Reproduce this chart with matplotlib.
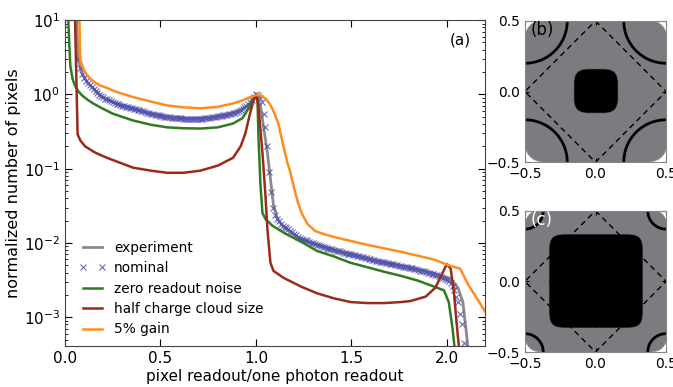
import numpy as np
import matplotlib
matplotlib.use('Agg')
import matplotlib.pyplot as plt
from matplotlib.patches import Arc

plt.rcParams['font.family'] = 'DejaVu Sans'
plt.rcParams['mathtext.fontset'] = 'dejavusans'
plt.rcParams['font.size'] = 10.5
plt.rcParams['xtick.direction'] = 'in'
plt.rcParams['ytick.direction'] = 'in'
plt.rcParams['xtick.top'] = True
plt.rcParams['ytick.right'] = True

# --- spectra (x: readout / one photon readout) ---
exp_x = [0.060, 0.068, 0.09, 0.12, 0.16, 0.20, 0.26, 0.35, 0.45, 0.55, 0.65, 0.75, 0.85, 0.92,
         0.96, 0.985, 1.0, 1.024, 1.039, 1.06, 1.076, 1.092, 1.113, 1.139, 1.18, 1.234, 1.32,
         1.407, 1.5, 1.585, 1.68, 1.76, 1.85, 1.93, 2.02, 2.058, 2.084, 2.10, 2.11]
exp_y = [12, 3.0, 1.9, 1.42, 1.12, 0.9, 0.77, 0.65, 0.55, 0.49, 0.47, 0.48, 0.535, 0.62,
         0.72, 0.88, 1.0, 0.71, 0.38, 0.165, 0.073, 0.032, 0.021, 0.017, 0.014, 0.0113, 0.0095,
         0.0081, 0.007, 0.0061, 0.0054, 0.0049, 0.0044, 0.0039, 0.0033, 0.0025, 0.0016, 0.0007, 0.0004]

# nominal model, one value every 0.01 starting at 0.07
nom_start, nom_step = 0.07, 0.01
nom_y = [3.0, 2.3, 1.9, 1.68, 1.52, 1.41, 1.32, 1.24, 1.17, 1.10,
         1.04, 0.99, 0.95, 0.91, 0.88, 0.855, 0.83, 0.81, 0.79, 0.77,
         0.75, 0.735, 0.72, 0.705, 0.69, 0.68, 0.67, 0.66, 0.65, 0.64,
         0.63, 0.62, 0.61, 0.60, 0.59, 0.58, 0.57, 0.56, 0.55, 0.543,
         0.535, 0.527, 0.52, 0.512, 0.505, 0.50, 0.495, 0.492, 0.49, 0.487,
         0.485, 0.482, 0.48, 0.477, 0.475, 0.472, 0.47, 0.47, 0.47, 0.47,
         0.47, 0.47, 0.47, 0.47, 0.47, 0.47, 0.475, 0.477, 0.48, 0.485,
         0.49, 0.495, 0.50, 0.505, 0.51, 0.515, 0.52, 0.527, 0.535, 0.542,
         0.55, 0.56, 0.57, 0.585, 0.60, 0.62, 0.64, 0.67, 0.70, 0.74,
         0.78, 0.84, 0.92, 1.0, 0.97, 0.90, 0.78, 0.55, 0.36, 0.20,
         0.09, 0.048, 0.03, 0.024, 0.021, 0.0195, 0.018, 0.017, 0.0163, 0.0157,
         0.0152, 0.0147, 0.0142, 0.0134, 0.0127, 0.0121, 0.0115, 0.0112, 0.0110, 0.0108,
         0.0106, 0.0103, 0.0101, 0.0099, 0.0097, 0.0095, 0.0093, 0.0091, 0.0089, 0.0087,
         0.0086, 0.0084, 0.0083, 0.0082, 0.0081, 0.0079, 0.0078, 0.0077, 0.0076, 0.0074,
         0.0073, 0.0072, 0.0071, 0.0070, 0.0069, 0.0068, 0.0067, 0.0066, 0.0065, 0.0064,
         0.0063, 0.0062, 0.0061, 0.0060, 0.0059, 0.00585, 0.0058, 0.0057, 0.0056, 0.00555,
         0.0055, 0.0054, 0.0053, 0.00525, 0.0052, 0.00515, 0.0051, 0.0050, 0.0049, 0.00485,
         0.0048, 0.00475, 0.0047, 0.00465, 0.0046, 0.00455, 0.0045, 0.0044, 0.0043, 0.00425,
         0.0042, 0.00415, 0.0041, 0.0040, 0.0039, 0.00385, 0.0038, 0.00375, 0.0037, 0.0036,
         0.0035, 0.0034, 0.0033, 0.0032, 0.0031, 0.0029, 0.0026, 0.0023, 0.0019, 0.0016,
         0.0011, 0.0008, 0.00045]
nom_x = np.round(nom_start + nom_step * np.arange(len(nom_y)), 2)

zero_x = [0.016, 0.022, 0.028, 0.04, 0.052, 0.07, 0.089, 0.12, 0.15, 0.184, 0.25, 0.357, 0.45,
          0.535, 0.62, 0.709, 0.8, 0.88, 0.93, 0.955, 0.98, 1.0, 1.008, 1.013, 1.024, 1.034,
          1.05, 1.087, 1.155, 1.234, 1.32, 1.407, 1.496, 1.585, 1.67, 1.76, 1.85, 1.93, 1.985,
          2.01, 2.03, 2.04]
zero_y = [12, 5.0, 2.4, 1.6, 1.32, 1.1, 0.97, 0.84, 0.75, 0.67, 0.55, 0.445, 0.39,
          0.36, 0.35, 0.347, 0.36, 0.405, 0.48, 0.61, 0.78, 0.97, 0.88, 0.28, 0.059, 0.0254,
          0.021, 0.017, 0.0133, 0.0105, 0.0078, 0.0066, 0.0054, 0.0047, 0.0041, 0.0036, 0.0031,
          0.0026, 0.0023, 0.0016, 0.0007, 0.0004]

half_x = [0.052, 0.066, 0.08, 0.105, 0.157, 0.22, 0.357, 0.45, 0.535, 0.62, 0.709, 0.8, 0.88,
          0.92, 0.945, 0.965, 0.985, 1.0, 1.013, 1.034, 1.05, 1.06, 1.076, 1.092, 1.144, 1.234,
          1.32, 1.407, 1.496, 1.585, 1.67, 1.76, 1.81, 1.89, 1.94, 1.97, 2.0, 2.02, 2.037,
          2.05, 2.063]
half_y = [12, 0.29, 0.24, 0.2, 0.165, 0.14, 0.103, 0.094, 0.088, 0.088, 0.094, 0.11, 0.14,
          0.2, 0.3, 0.5, 0.8, 1.0, 0.71, 0.165, 0.043, 0.0154, 0.0054, 0.0042, 0.0034, 0.0026,
          0.0021, 0.0018, 0.0016, 0.00155, 0.00155, 0.0016, 0.00165, 0.0019, 0.0025, 0.0036,
          0.0052, 0.0045, 0.0022, 0.0009, 0.0004]

gain_x = [0.075, 0.079, 0.09, 0.105, 0.13, 0.157, 0.184, 0.22, 0.27, 0.357, 0.45, 0.535, 0.62,
          0.709, 0.8, 0.88, 0.93, 0.97, 1.0, 1.024, 1.05, 1.07, 1.085, 1.10, 1.118, 1.144, 1.165,
          1.18, 1.20, 1.22, 1.24, 1.27, 1.31, 1.35, 1.41, 1.585, 1.76, 1.93, 2.02, 2.07, 2.11, 2.2]
gain_y = [12, 3.07, 2.4, 1.98, 1.65, 1.45, 1.32, 1.22, 1.08, 0.92, 0.8, 0.71, 0.67,
          0.65, 0.68, 0.755, 0.83, 0.92, 0.98, 0.97, 0.88, 0.76, 0.65, 0.53, 0.4, 0.2, 0.12,
          0.09, 0.055, 0.035, 0.025, 0.018, 0.0145, 0.0133, 0.012, 0.0094, 0.0076, 0.006,
          0.0049, 0.0045, 0.0028, 0.0012]

# --- pixel maps: (core half width, core exponent, corner arc radius, edge rounding, label colour)
maps = {'(b)': (0.155, 4.0, 0.30, 0.12, 'black'),
        '(c)': (0.33, 9.0, 0.13, 0.10, 'white')}
diamond_x = [0.0, 0.5, 0.0, -0.5, 0.0]
diamond_y = [0.5, 0.0, -0.5, 0.0, 0.5]

fig = plt.figure(figsize=(6.73, 3.87), dpi=100)
ax = fig.add_axes([0.0966, 0.106, 0.6241, 0.842])

ax.plot(exp_x, exp_y, color='#8a8a8a', lw=2, label='experiment')
ax.plot(nom_x, nom_y, 'x', color='#4f4fae', ms=4, mew=0.8, alpha=0.85, label='nominal')
ax.plot(zero_x, zero_y, color='#2f7a22', lw=1.8, label='zero readout noise')
ax.plot(half_x, half_y, color='#9a2b1b', lw=1.8, label='half charge cloud size')
ax.plot(gain_x, gain_y, color='#ff8c1e', lw=1.8, label='5% gain')

ax.set_yscale('log')
ax.set_xlim(0, 2.2)
ax.set_ylim(4.1e-4, 10)
ax.set_xticks([0.0, 0.5, 1.0, 1.5, 2.0])
ax.set_xlabel('pixel readout/one photon readout', fontsize=11, labelpad=2)
ax.set_ylabel('normalized number of pixels', fontsize=11.5, labelpad=2)
ax.tick_params(which='major', length=5, labelsize=11)
ax.tick_params(which='minor', length=2.5)
for s in ax.spines.values():
    s.set_color('#444444')
ax.text(0.94, 0.94, '(a)', transform=ax.transAxes, ha='center', va='center', fontsize=11)
ax.legend(loc='lower left', frameon=False, numpoints=2, handlelength=2.0, handletextpad=0.6,
          fontsize=9.8, borderaxespad=0.3, labelspacing=0.47, bbox_to_anchor=(0.01, 0.0))

grey = np.array([0.48, 0.49, 0.50])
g = np.linspace(-0.5, 0.5, 601)
X, Y = np.meshgrid(g, g)


def rounded(half, r):
    dx = np.clip(np.abs(X) - (half - r), 0, None)
    dy = np.clip(np.abs(Y) - (half - r), 0, None)
    return np.hypot(dx, dy) <= r


for (lab, (core_h, core_p, arc_r, edge_r, lc)), top in zip(maps.items(), [0.581, 0.0904]):
    axm = fig.add_axes([0.7786, top, 0.2125, 0.365])
    img = np.ones(X.shape + (3,))
    img[rounded(0.5, edge_r)] = grey
    img[(np.abs(X) / core_h) ** core_p + (np.abs(Y) / core_h) ** core_p <= 1] = 0
    axm.imshow(img, extent=(-0.5, 0.5, -0.5, 0.5), origin='lower', interpolation='bilinear')
    for cx in (-0.5, 0.5):
        for cy in (-0.5, 0.5):
            axm.add_patch(Arc((cx, cy), 2 * arc_r, 2 * arc_r, color='k', lw=2))
    axm.plot(diamond_x, diamond_y, 'k--', lw=1, dashes=(4, 3))
    axm.set_xlim(-0.5, 0.5)
    axm.set_ylim(-0.5, 0.5)
    axm.set_xticks([-0.5, 0.0, 0.5])
    axm.set_yticks([-0.5, 0.0, 0.5])
    axm.tick_params(labelsize=10, length=3)
    for s in axm.spines.values():
        s.set_color('#888888')
    axm.text(0.04, 0.9, lab, transform=axm.transAxes, color=lc, fontsize=12)

fig.savefig('out.png', dpi=100)
